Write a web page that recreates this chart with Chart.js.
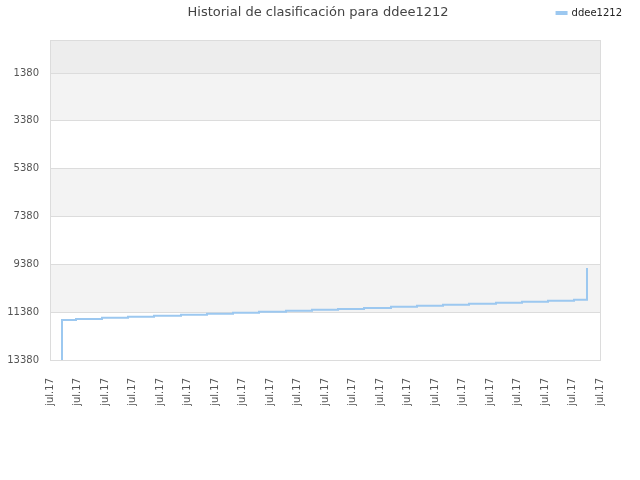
<!DOCTYPE html>
<html>
<head>
<meta charset="utf-8">
<script src="https://cdn.jsdelivr.net/npm/chart.js@4"></script>
<style>
  html, body { margin: 0; padding: 0; background: #fff; }
  #wrap { width: 640px; height: 480px; }
</style>
</head>
<body>
<div id="wrap"><canvas id="rankChart" width="640" height="480"></canvas></div>
<script>
// Ranking history (lower number = better position)
const player = 'ddee1212';
const tickLabel = 'jul.17';
const rankTicks = [1380, 3380, 5380, 7380, 9380, 11380, 13380];
const xPos = [0.436, 0.436, 0.945, 1.891, 2.836, 3.782, 4.764, 5.709, 6.655, 7.6, 8.582,
              9.527, 10.473, 11.418, 12.4, 13.345, 14.291, 15.236, 16.218, 17.164, 18.109,
              19.055, 19.527, 19.527, 19.527];
const ranks = [13380, 11708, 11666, 11612, 11570, 11528, 11486, 11444, 11403, 11361, 11319,
               11281, 11248, 11206, 11151, 11110, 11068, 11026, 10984, 10942, 10900,
               10858, 10369, 9910, 9533];
const shadedBands = [[0, 1380], [1380, 3380], [5380, 7380], [9380, 11380]];

Chart.defaults.font.family = 'DejaVu Sans';
Chart.defaults.font.size = 10;
Chart.defaults.color = '#555';

// background bands + frame + title
const backdrop = {
  id: 'backdrop',
  beforeDraw(chart) {
    const { ctx, chartArea: a, scales: { y } } = chart;
    ctx.save();
    shadedBands.forEach((b, i) => {
      const y0 = y.getPixelForValue(b[0]);
      const y1 = y.getPixelForValue(b[1]);
      ctx.fillStyle = i === 0 ? '#ededed' : '#f3f3f3';
      ctx.fillRect(a.left, y0, a.right - a.left, y1 - y0);
    });
    ctx.restore();
  },
  afterDraw(chart) {
    const { ctx, chartArea: a } = chart;
    ctx.save();
    ctx.strokeStyle = '#dcdcdc';
    ctx.lineWidth = 1;
    ctx.strokeRect(a.left + 0.5, a.top + 0.5, a.right - a.left, a.bottom - a.top);
    ctx.fillStyle = '#444';
    ctx.font = '13px "DejaVu Sans"';
    ctx.textAlign = 'center';
    ctx.textBaseline = 'middle';
    ctx.fillText('Historial de clasificación para ' + player, 318, 13);
    ctx.restore();
  }
};

const ctx = document.getElementById('rankChart').getContext('2d');
const rankChart = new Chart(ctx, {
  type: 'line',
  data: {
    datasets: [{
      label: player,
      data: xPos.map((x, i) => ({ x: x, y: ranks[i] })),
      borderColor: '#9cc8f0',
      backgroundColor: '#9cc8f0',
      borderWidth: 2,
      pointRadius: 0,
      stepped: true,
      fill: false
    }]
  },
  options: {
    responsive: false,
    animation: false,
    layout: { padding: { top: 1, right: 11, bottom: 0, left: 0 } },
    plugins: {
      title: { display: false },
      tooltip: { enabled: false },
      legend: {
        position: 'top',
        align: 'end',
        labels: { boxWidth: 10, boxHeight: 2, color: '#222', padding: 7 }
      }
    },
    scales: {
      x: {
        type: 'linear',
        min: 0,
        max: 20,
        grid: { display: false },
        border: { display: false },
        ticks: {
          stepSize: 1,
          autoSkip: false,
          minRotation: 90,
          maxRotation: 90,
          padding: 10,
          callback: () => tickLabel
        },
        afterFit: s => { s.height = 120; }
      },
      xTop: {
        type: 'linear',
        position: 'top',
        grid: { display: false },
        border: { display: false },
        ticks: { display: false },
        afterFit: s => { s.height = 12; }
      },
      y: {
        reverse: true,
        min: 0,
        max: 13380,
        grid: { color: '#dcdcdc', drawTicks: false },
        border: { display: false },
        ticks: { padding: 11, callback: v => String(v) },
        afterBuildTicks: s => { s.ticks = rankTicks.map(v => ({ value: v })); },
        afterFit: s => { s.width = 50; }
      },
      yRight: {
        position: 'right',
        grid: { display: false },
        border: { display: false },
        ticks: { display: false },
        afterFit: s => { s.width = 29; }
      }
    }
  },
  plugins: [backdrop]
});
</script>
</body>
</html>
